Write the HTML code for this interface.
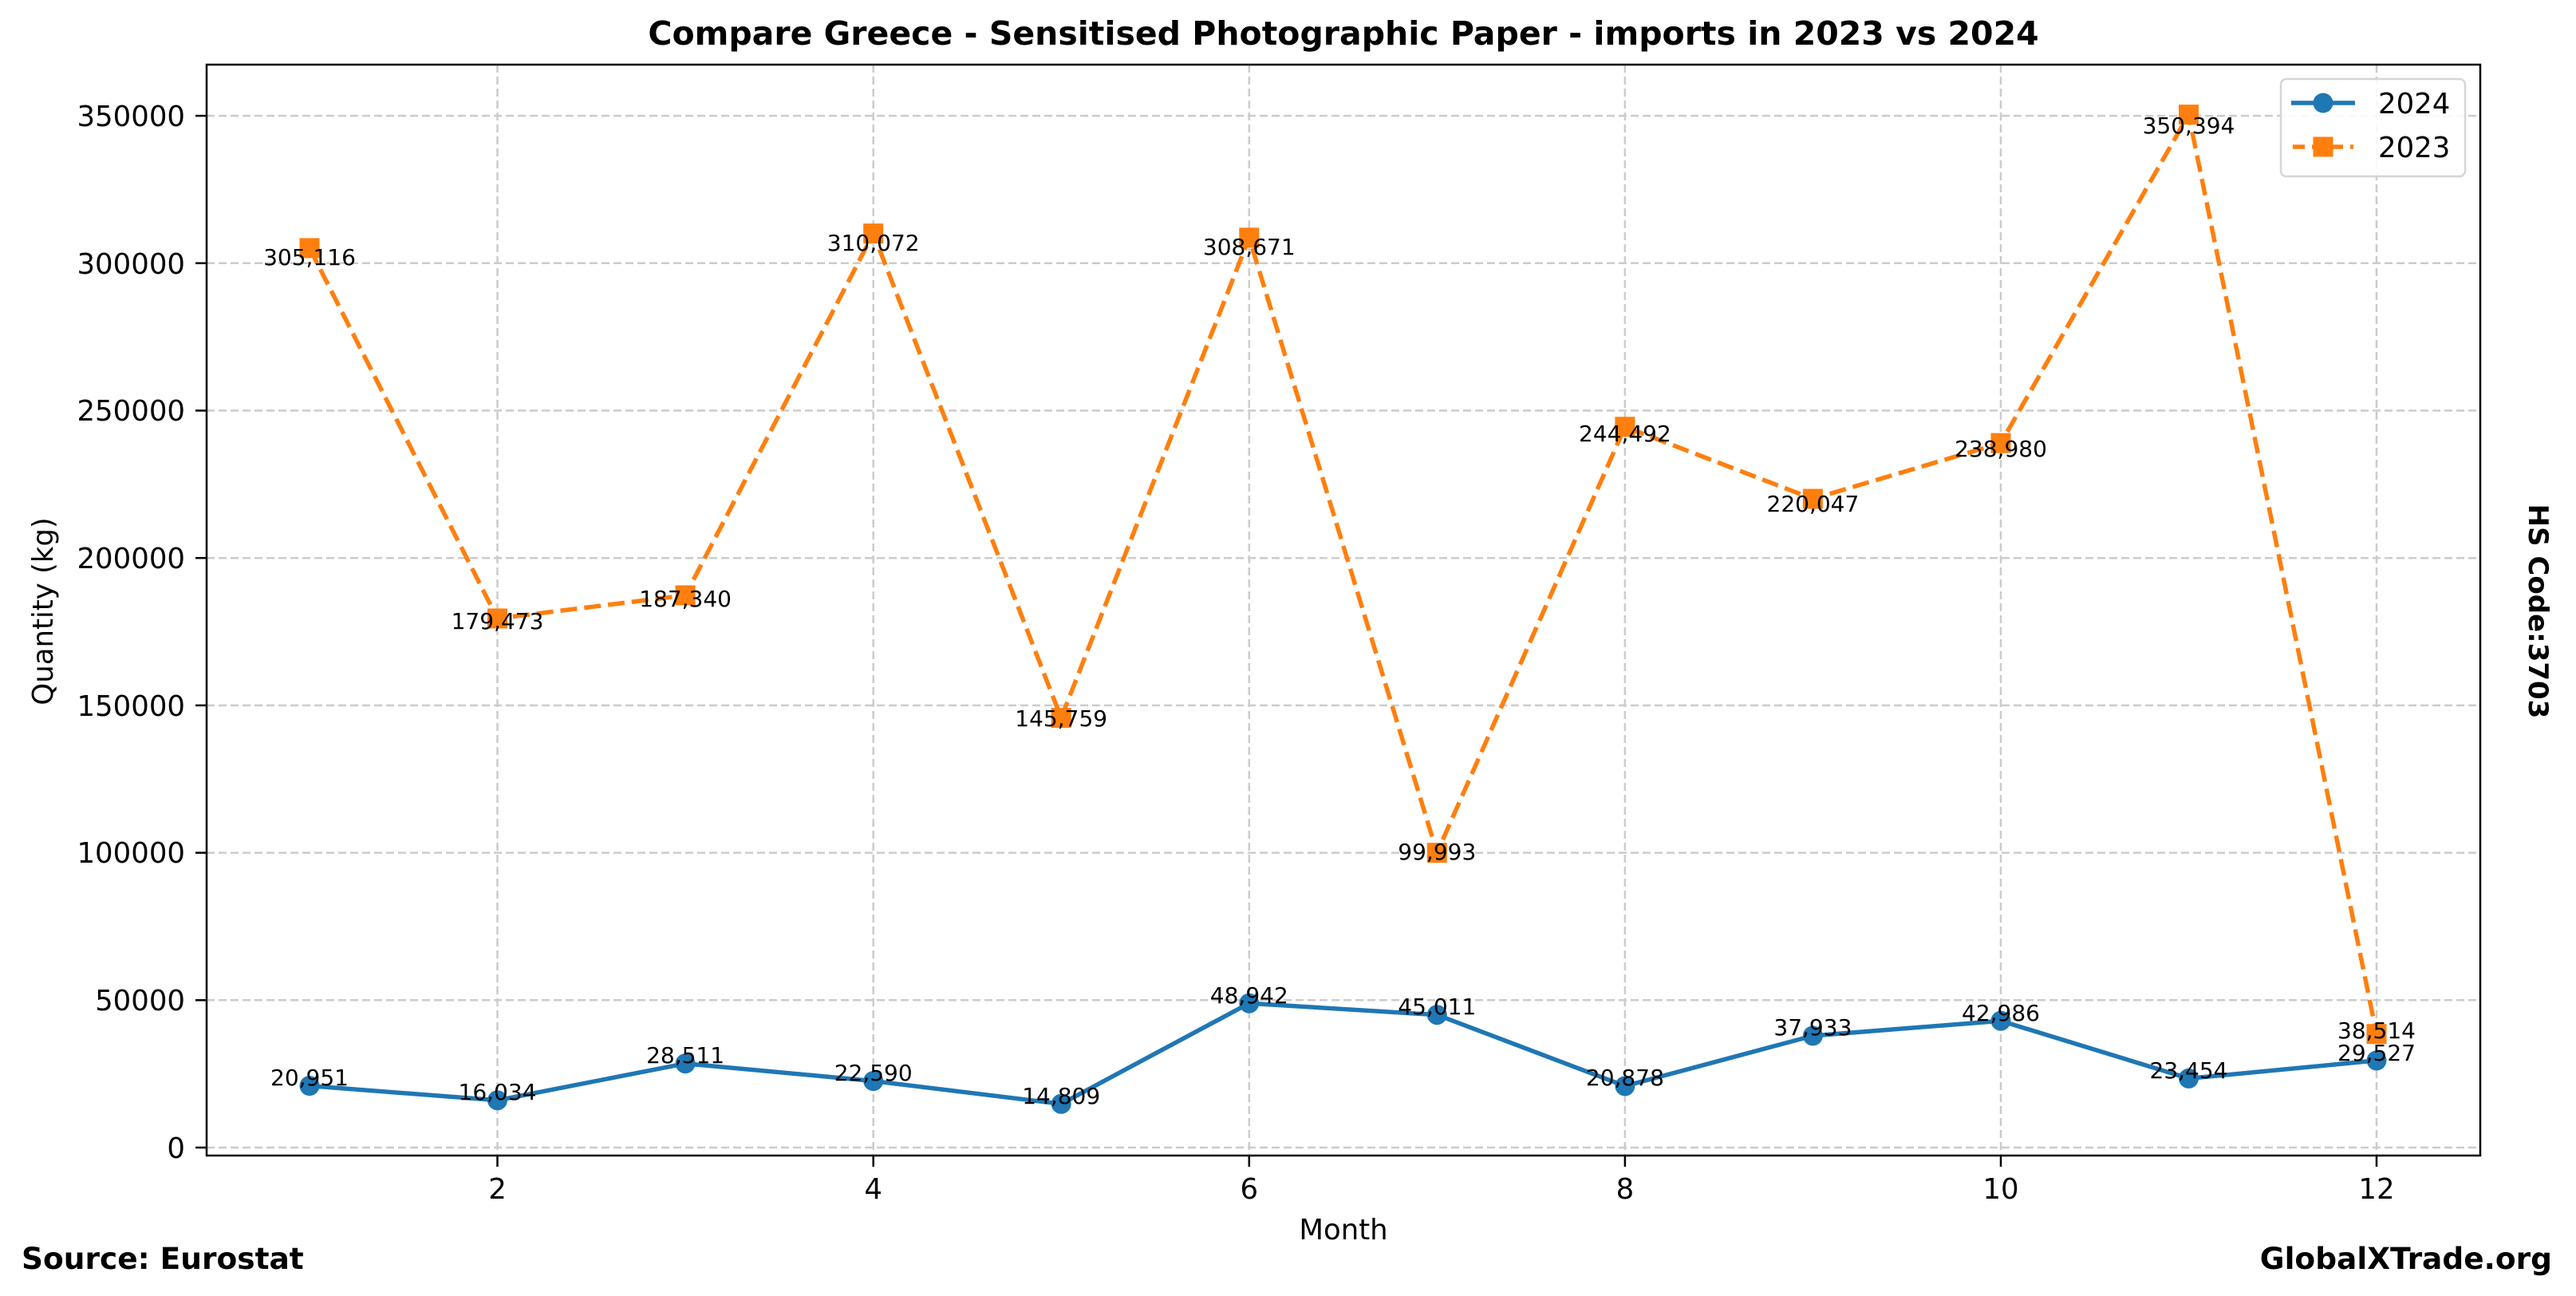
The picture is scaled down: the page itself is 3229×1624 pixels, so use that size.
<!DOCTYPE html>
<html><head><meta charset="utf-8"><style>html,body{margin:0;padding:0;background:#fff}svg{display:block}</style></head>
<body>
<svg width="3229" height="1624" viewBox="0 0 3229 1624" xmlns="http://www.w3.org/2000/svg" font-family="DejaVu Sans, Liberation Sans, sans-serif">
<rect width="3229" height="1624" fill="#fff"/>
<g stroke="#cccccc" stroke-width="2.5" stroke-dasharray="10,5">
<line x1="259" x2="3109" y1="1438" y2="1438"/>
<line x1="259" x2="3109" y1="1253.3" y2="1253.3"/>
<line x1="259" x2="3109" y1="1068.6" y2="1068.6"/>
<line x1="259" x2="3109" y1="883.9" y2="883.9"/>
<line x1="259" x2="3109" y1="699.2" y2="699.2"/>
<line x1="259" x2="3109" y1="514.5" y2="514.5"/>
<line x1="259" x2="3109" y1="329.8" y2="329.8"/>
<line x1="259" x2="3109" y1="145.1" y2="145.1"/>
<line x1="623.5" x2="623.5" y1="81" y2="1448"/>
<line x1="1094.7" x2="1094.7" y1="81" y2="1448"/>
<line x1="1565.8" x2="1565.8" y1="81" y2="1448"/>
<line x1="2036.9" x2="2036.9" y1="81" y2="1448"/>
<line x1="2508" x2="2508" y1="81" y2="1448"/>
<line x1="2979" x2="2979" y1="81" y2="1448"/>
</g>
<polyline fill="none" stroke="#1f77b4" stroke-width="5.5" stroke-linejoin="round" points="388,1360.6 623.5,1378.8 859.1,1332.7 1094.7,1354.6 1330.2,1383.3 1565.8,1257.2 1801.3,1271.7 2036.9,1360.9 2272.4,1297.9 2508,1279.2 2743.5,1351.4 2979,1328.9"/>
<g fill="#1f77b4">
<circle cx="388" cy="1360.6" r="12.5"/><circle cx="623.5" cy="1378.8" r="12.5"/><circle cx="859.1" cy="1332.7" r="12.5"/><circle cx="1094.7" cy="1354.6" r="12.5"/><circle cx="1330.2" cy="1383.3" r="12.5"/><circle cx="1565.8" cy="1257.2" r="12.5"/><circle cx="1801.3" cy="1271.7" r="12.5"/><circle cx="2036.9" cy="1360.9" r="12.5"/><circle cx="2272.4" cy="1297.9" r="12.5"/><circle cx="2508" cy="1279.2" r="12.5"/><circle cx="2743.5" cy="1351.4" r="12.5"/><circle cx="2979" cy="1328.9" r="12.5"/>
</g>
<polyline fill="none" stroke="#ff7f0e" stroke-width="5.5" stroke-dasharray="21,9" stroke-linejoin="round" points="388,310.9 623.5,775 859.1,746 1094.7,292.6 1330.2,899.6 1565.8,297.8 1801.3,1068.6 2036.9,534.8 2272.4,625.1 2508,555.2 2743.5,143.6 2979,1295.7"/>
<g fill="#ff7f0e">
<rect x="375.5" y="298.4" width="25" height="25"/><rect x="611" y="762.5" width="25" height="25"/><rect x="846.6" y="733.5" width="25" height="25"/><rect x="1082.2" y="280.1" width="25" height="25"/><rect x="1317.7" y="887.1" width="25" height="25"/><rect x="1553.3" y="285.3" width="25" height="25"/><rect x="1788.8" y="1056.1" width="25" height="25"/><rect x="2024.4" y="522.3" width="25" height="25"/><rect x="2259.9" y="612.6" width="25" height="25"/><rect x="2495.5" y="542.7" width="25" height="25"/><rect x="2731" y="131.1" width="25" height="25"/><rect x="2966.5" y="1283.2" width="25" height="25"/>
</g>
<g font-size="28" text-anchor="middle" fill="#000">
<text x="388" y="332">305,116</text><text x="623.5" y="788">179,473</text><text x="859.1" y="760">187,340</text><text x="1094.7" y="314">310,072</text><text x="1330.2" y="910">145,759</text><text x="1565.8" y="319">308,671</text><text x="1801.3" y="1077">99,993</text><text x="2036.9" y="553">244,492</text><text x="2272.4" y="641">220,047</text><text x="2508" y="572">238,980</text><text x="2743.5" y="167">350,394</text><text x="2979" y="1301">38,514</text>
<text x="388" y="1360">20,951</text><text x="623.5" y="1378">16,034</text><text x="859.1" y="1332">28,511</text><text x="1094.7" y="1354">22,590</text><text x="1330.2" y="1383">14,809</text><text x="1565.8" y="1257">48,942</text><text x="1801.3" y="1271">45,011</text><text x="2036.9" y="1360">20,878</text><text x="2272.4" y="1297">37,933</text><text x="2508" y="1279">42,986</text><text x="2743.5" y="1351">23,454</text><text x="2979" y="1329">29,527</text>
</g>
<rect x="259" y="81" width="2850" height="1367" fill="none" stroke="#000" stroke-width="2.5"/>
<g stroke="#000" stroke-width="2.5">
<line x1="245" x2="259" y1="1438" y2="1438"/><line x1="245" x2="259" y1="1253.3" y2="1253.3"/><line x1="245" x2="259" y1="1068.6" y2="1068.6"/><line x1="245" x2="259" y1="883.9" y2="883.9"/><line x1="245" x2="259" y1="699.2" y2="699.2"/><line x1="245" x2="259" y1="514.5" y2="514.5"/><line x1="245" x2="259" y1="329.8" y2="329.8"/><line x1="245" x2="259" y1="145.1" y2="145.1"/>
<line x1="623.5" x2="623.5" y1="1448" y2="1462"/><line x1="1094.7" x2="1094.7" y1="1448" y2="1462"/><line x1="1565.8" x2="1565.8" y1="1448" y2="1462"/><line x1="2036.9" x2="2036.9" y1="1448" y2="1462"/><line x1="2508" x2="2508" y1="1448" y2="1462"/><line x1="2979" x2="2979" y1="1448" y2="1462"/>
</g>
<g font-size="35.5" text-anchor="end" fill="#000">
<text x="232" y="1451">0</text><text x="232" y="1266">50000</text><text x="232" y="1081">100000</text><text x="232" y="897">150000</text><text x="232" y="712">200000</text><text x="232" y="527">250000</text><text x="232" y="343">300000</text><text x="232" y="158">350000</text>
</g>
<g font-size="35.5" text-anchor="middle" fill="#000">
<text x="623.5" y="1502">2</text><text x="1094.7" y="1502">4</text><text x="1565.8" y="1502">6</text><text x="2036.9" y="1502">8</text><text x="2508" y="1502">10</text><text x="2979" y="1502">12</text>
<text x="1684" y="1553">Month</text>
<text transform="translate(66,766) rotate(-90)">Quantity (kg)</text>
</g>
<text x="1684" y="56" font-size="41" font-weight="bold" text-anchor="middle">Compare Greece - Sensitised Photographic Paper - imports in 2023 vs 2024</text>
<text transform="translate(3170,766) rotate(90)" font-size="34" font-weight="bold" text-anchor="middle">HS Code:3703</text>
<text x="27" y="1590" font-size="37.5" font-weight="bold">Source: Eurostat</text>
<text x="3199" y="1590" font-size="37.5" font-weight="bold" text-anchor="end">GlobalXTrade.org</text>
<rect x="2859" y="99" width="231" height="122" rx="7" fill="#fff" fill-opacity="0.85" stroke="#d6d6d6" stroke-width="2.5"/>
<line x1="2872" x2="2952" y1="129" y2="129" stroke="#1f77b4" stroke-width="5.5"/>
<circle cx="2912" cy="129" r="12.5" fill="#1f77b4"/>
<line x1="2874" x2="2950" y1="184" y2="184" stroke="#ff7f0e" stroke-width="5.5" stroke-dasharray="15,9"/>
<rect x="2899.5" y="171.5" width="25" height="25" fill="#ff7f0e"/>
<text x="2981" y="142" font-size="35.5">2024</text>
<text x="2981" y="197" font-size="35.5">2023</text>
</svg>
</body></html>
